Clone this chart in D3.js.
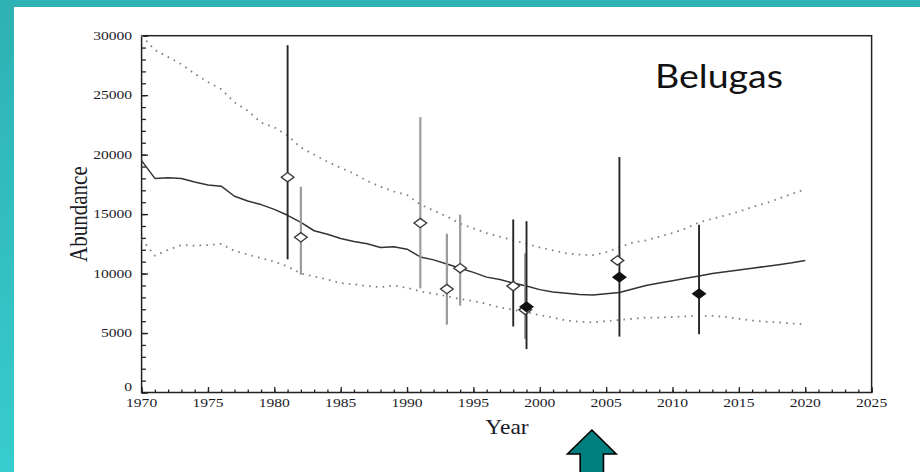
<!DOCTYPE html>
<html>
<head>
<meta charset="utf-8">
<script src="https://cdn.jsdelivr.net/npm/d3@7/dist/d3.min.js"></script>
<style>
  html, body { margin: 0; padding: 0; background: #ffffff; }
  svg { display: block; }
</style>
</head>
<body>
<svg id="chart" width="920" height="472"></svg>
<script>
// ---------------- DATA ----------------
const years = [1970,1971,1972,1973,1974,1975,1976,1977,1978,1979,
               1980,1981,1982,1983,1984,1985,1986,1987,1988,1989,
               1990,1991,1992,1993,1994,1995,1996,1997,1998,1999,
               2000,2001,2002,2003,2004,2005,2006,2007,2008,2009,
               2010,2011,2012,2013,2014,2015,2016,2017,2018,2019,2020];
const meanAbundance = [19500,18000,18050,18000,17700,17450,17350,16500,16100,15800,
                       15400,14900,14300,13600,13300,12950,12700,12500,12200,12250,
                       12050,11400,11150,10800,10450,10100,9700,9500,9200,8950,
                       8650,8450,8350,8250,8200,8300,8400,8700,9000,9200,
                       9400,9600,9800,10000,10150,10300,10450,10600,10750,10900,11100];
const upperBound = [30000,28800,28200,27600,26800,26100,25500,24400,23700,22700,
                    22300,21600,20600,20000,19400,18900,18400,17800,17300,16900,
                    16600,15800,15300,14800,14200,13800,13400,13100,12800,12500,
                    12200,11950,11700,11600,11550,11800,12200,12600,12800,13100,
                    13400,13800,14300,14600,14900,15200,15600,15900,16300,16700,17100];
const lowerBound = [12900,11500,12000,12400,12350,12400,12500,11900,11600,11300,
                    11000,10600,10000,9750,9500,9200,9100,8950,8850,9000,
                    8800,8500,8300,8100,7850,7700,7450,7150,6950,6750,
                    6500,6300,6050,5950,5900,6000,6100,6200,6300,6300,
                    6350,6400,6450,6450,6350,6200,6050,5950,5900,5800,5750];

// survey estimates with error bars
const obsYear  = [1981, 1982, 1991, 1993, 1994, 1998, 1998.9, 1999, 2005.85, 2006, 2012];
const obsValue = [18100,13050,14250, 8700,10450, 8950, 6950, 7200, 11100, 9700, 8300];
const obsLow   = [11200, 9900, 8750, 5700, 7300, 5550, 4500, 3650, 11100, 4700, 4900];
const obsHigh  = [29200,17300,23150,13350,14950,14550,11700,14400, 11100,19800,14100];
const obsKind  = ["openDark","openGray","openGray","openGray","openGray","openDark","openGray","filled","openGray","filled","filled"];

const xTickLabels = ["1970","1975","1980","1985","1990","1995","2000","2005","2010","2015","2020","2025"];
const yTickLabels = ["0","5000","10000","15000","20000","25000","30000"];

const titleText = "Belugas";
const xTitle = "Year";
const yTitle = "Abundance";

// ---------------- LAYOUT ----------------
const svg = d3.select("#chart");
const W = 920, H = 472;

const defs = svg.append("defs");
const grad = defs.append("linearGradient").attr("id","leftBand")
  .attr("x1",0).attr("y1",0).attr("x2",0).attr("y2",1);
grad.append("stop").attr("offset","0%").attr("stop-color","#2eb1b3");
grad.append("stop").attr("offset","100%").attr("stop-color","#37cccf");

// background bands
svg.append("rect").attr("x",0).attr("y",0).attr("width",W).attr("height",H).attr("fill","#ffffff");
svg.append("rect").attr("x",0).attr("y",0).attr("width",W).attr("height",7).attr("fill","#2fb2b4");
svg.append("rect").attr("x",0).attr("y",0).attr("width",14).attr("height",H).attr("fill","url(#leftBand)");

const x = d3.scaleLinear().domain([1970, 2025]).range([141.6, 871.6]);
const y = d3.scaleLinear().domain([0, 30000]).range([392.5, 35.7]);

const axisColor = "#222";
const labelFont = "'Liberation Serif', 'Times New Roman', serif";
const stretch = 1.2;

// ticks (inward)
const gx = svg.append("g").attr("transform", `translate(0,${y(0)})`);
gx.call(d3.axisBottom(x).tickValues(d3.range(1970, 2026, 1)).tickSize(-3).tickFormat(""));
gx.call(g => g.select(".domain").remove());
const gx2 = svg.append("g").attr("transform", `translate(0,${y(0)})`);
gx2.call(d3.axisBottom(x).tickValues(xTickLabels.map(Number)).tickSize(-5.5).tickFormat(""));
gx2.call(g => g.select(".domain").remove());

const gy = svg.append("g").attr("transform", `translate(${x(1970)},0)`);
gy.call(d3.axisLeft(y).tickValues(d3.range(0, 30001, 1000)).tickSize(-4.3).tickFormat(""));
gy.call(g => g.select(".domain").remove());
const gy2 = svg.append("g").attr("transform", `translate(${x(1970)},0)`);
gy2.call(d3.axisLeft(y).tickValues(yTickLabels.map(Number)).tickSize(-6.5).tickFormat(""));
gy2.call(g => g.select(".domain").remove());

svg.selectAll(".tick line").attr("stroke", axisColor).attr("stroke-width", 1.3);

// frame
svg.append("rect")
  .attr("x", x(1970)).attr("y", y(30000))
  .attr("width", x(2025) - x(1970)).attr("height", y(0) - y(30000))
  .attr("fill", "none").attr("stroke", axisColor).attr("stroke-width", 1.5);

// tick labels
xTickLabels.forEach(t => {
  svg.append("text")
    .attr("transform", `translate(${x(+t)},406.5) scale(${stretch},1)`)
    .attr("text-anchor","middle")
    .attr("font-family", labelFont).attr("font-size", 13)
    .attr("fill","#1b1b28")
    .text(t);
});
yTickLabels.forEach(t => {
  const dy = (+t === 0) ? -1.4 : 4.3;
  svg.append("text")
    .attr("transform", `translate(${x(1970) - 9.5},${y(+t) + dy}) scale(${stretch},1)`)
    .attr("text-anchor","end")
    .attr("font-family", labelFont).attr("font-size", 13)
    .attr("fill","#1b1b28")
    .text(t);
});

// axis titles
svg.append("text")
  .attr("transform", `translate(507,434) scale(1.12,1)`)
  .attr("text-anchor","middle")
  .attr("font-family", labelFont).attr("font-size", 21)
  .attr("fill","#1b1b28")
  .text(xTitle);
svg.append("text")
  .attr("transform", `translate(87,${(y(0)+y(30000))/2}) scale(1.2,1) rotate(-90)`)
  .attr("text-anchor","middle")
  .attr("font-family", labelFont).attr("font-size", 21)
  .attr("fill","#1b1b28")
  .text(yTitle);

// ---------------- LINES ----------------
const lineOf = vals => d3.line()
  .x((d, i) => x(years[i]))
  .y(d => y(d))(vals);

svg.append("path").attr("d", lineOf(upperBound))
  .attr("fill","none").attr("stroke","#808080").attr("stroke-width",1.8)
  .attr("stroke-dasharray","1.6,5.2");
svg.append("path").attr("d", lineOf(lowerBound))
  .attr("fill","none").attr("stroke","#808080").attr("stroke-width",1.8)
  .attr("stroke-dasharray","1.6,5.2");
svg.append("path").attr("d", lineOf(meanAbundance))
  .attr("fill","none").attr("stroke","#333").attr("stroke-width",1.5)
  .attr("stroke-linejoin","round");

// ---------------- ERROR BARS & POINTS ----------------
const obs = obsYear.map((yr, i) => ({yr, v: obsValue[i], lo: obsLow[i], hi: obsHigh[i], kind: obsKind[i]}));
const order = ["openGray","openDark","filled"];
const sorted = obs.slice().sort((a, b) => order.indexOf(a.kind) - order.indexOf(b.kind));

svg.append("g").selectAll("line").data(sorted.filter(d => d.hi > d.lo)).join("line")
  .attr("x1", d => x(d.yr)).attr("x2", d => x(d.yr))
  .attr("y1", d => y(d.hi)).attr("y2", d => y(d.lo))
  .attr("stroke", d => d.kind === "openGray" ? "#9c9c9c" : "#262626")
  .attr("stroke-width", d => d.kind === "openGray" ? 2.2 : 1.9);

const diamond = "M0,-4.7 L6.3,0 L0,4.7 L-6.3,0 Z";
svg.append("g").selectAll("path").data(sorted).join("path")
  .attr("d", diamond)
  .attr("transform", d => `translate(${x(d.yr)},${y(d.v)})`)
  .attr("fill", d => d.kind === "filled" ? "#111" : "#ffffff")
  .attr("stroke", d => d.kind === "filled" ? "#111" : "#3a3a3a")
  .attr("stroke-width", 1.4);

// ---------------- TITLE ----------------
svg.append("text")
  .attr("x", 655).attr("y", 88)
  .attr("font-family","Lato, 'Open Sans', sans-serif")
  .attr("font-size", 32)
  .attr("textLength", 128).attr("lengthAdjust","spacingAndGlyphs")
  .attr("fill","#111")
  .text(titleText);

// ---------------- ARROW ----------------
const ax = x(2004) - 1;
const arrow = d3.path();
arrow.moveTo(ax, 430);
arrow.lineTo(ax + 24.3, 454);
arrow.lineTo(ax + 11.6, 454);
arrow.lineTo(ax + 11.6, 476);
arrow.lineTo(ax - 11.7, 476);
arrow.lineTo(ax - 11.7, 454);
arrow.lineTo(ax - 24.4, 454);
arrow.closePath();
svg.append("path").attr("d", arrow.toString())
  .attr("fill","#007f7e").attr("stroke","#000").attr("stroke-width",1.6)
  .attr("stroke-linejoin","miter");
</script>
</body>
</html>
